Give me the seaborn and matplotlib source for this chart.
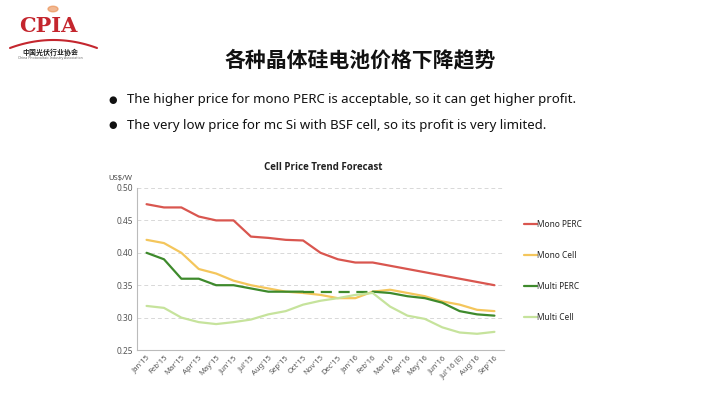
import matplotlib
matplotlib.use("Agg")
import matplotlib.pyplot as plt
from matplotlib.patches import Circle
from matplotlib.lines import Line2D
import seaborn as sns
import pandas as pd
import numpy as np

months = ["Jan'15", "Feb'15", "Mar'15", "Apr'15", "May'15", "Jun'15", "Jul'15",
          "Aug'15", "Sep'15", "Oct'15", "Nov'15", "Dec'15", "Jan'16", "Feb'16",
          "Mar'16", "Apr'16", "May'16", "Jun'16", "Jul'16 (E)", "Aug'16", "Sep'16"]
mono_perc = [0.475, 0.470, 0.470, 0.456, 0.450, 0.450, 0.425, 0.423, 0.420, 0.419,
             0.400, 0.390, 0.385, 0.385, 0.380, 0.375, 0.370, 0.365, 0.360, 0.355, 0.350]
mono_cell = [0.420, 0.415, 0.400, 0.375, 0.368, 0.357, 0.350, 0.345, 0.340, 0.338,
             0.335, 0.330, 0.330, 0.340, 0.343, 0.338, 0.333, 0.325, 0.320, 0.312, 0.310]
multi_perc = [0.400, 0.390, 0.360, 0.360, 0.350, 0.350, 0.345, 0.340, 0.340, 0.340,
              0.340, 0.340, 0.340, 0.340, 0.338, 0.333, 0.330, 0.323, 0.310, 0.305, 0.303]
multi_cell = [0.318, 0.315, 0.300, 0.293, 0.290, 0.293, 0.297, 0.305, 0.310, 0.320,
              0.326, 0.330, 0.335, 0.338, 0.317, 0.303, 0.298, 0.285, 0.277, 0.275, 0.278]
series_names = ["Mono PERC", "Mono Cell", "Multi PERC", "Multi Cell"]
colors = {"Mono PERC": "#d9564f", "Mono Cell": "#f4c65c",
          "Multi PERC": "#3e8a2c", "Multi Cell": "#c6e39c"}

title_cn = "各种晶体硅电池价格下降趋势"
bullets = ["The higher price for mono PERC is acceptable, so it can get higher profit.",
           "The very low price for mc Si with BSF cell, so its profit is very limited."]
chart_title = "Cell Price Trend Forecast"
y_unit = "US$/W"
forecast_start, forecast_end = 9, 13  # dashed Multi PERC between Oct'15 and Feb'16

sns.set_theme(style="white")
plt.rcParams['font.family'] = ['Noto Sans', 'Noto Sans CJK SC', 'DejaVu Sans']

idx = np.arange(len(months))
frames = []
for name, vals in zip(series_names, [mono_perc, mono_cell, multi_perc, multi_cell]):
    frames.append(pd.DataFrame({"idx": idx, "month": months, "price": vals, "series": name}))
df = pd.concat(frames, ignore_index=True)

fig = plt.figure(figsize=(7.2, 4.05), dpi=100)
fig.patch.set_facecolor("white")
ax = fig.add_axes([137/720, 1-350/405, (504-137)/720, (350-188)/405])

for name in series_names:
    sub = df[df.series == name]
    if name == "Multi PERC":
        a = sub[sub.idx <= forecast_start]
        b = sub[(sub.idx >= forecast_start) & (sub.idx <= forecast_end)]
        c = sub[sub.idx >= forecast_end]
        for part in (a, c):
            sns.lineplot(data=part, x="idx", y="price", color=colors[name], lw=1.6, ax=ax)
        sns.lineplot(data=b, x="idx", y="price", color=colors[name], lw=1.6, ax=ax,
                     linestyle=(0, (5, 3)))
    else:
        sns.lineplot(data=sub, x="idx", y="price", color=colors[name], lw=1.6, ax=ax)

ax.set_xlim(-0.55, len(months) - 0.45)
ax.set_ylim(0.25, 0.50)
ax.set_yticks([0.25, 0.30, 0.35, 0.40, 0.45, 0.50])
ax.set_yticklabels([f"{v:.2f}" for v in [0.25, 0.30, 0.35, 0.40, 0.45, 0.50]])
ax.set_xticks(idx)
ax.set_xticklabels(months, rotation=45, ha="right", rotation_mode="anchor")
ax.tick_params(axis="x", labelsize=5.5, colors="#555555", length=0, pad=3)
ax.tick_params(axis="y", labelsize=6, colors="#555555", length=0, pad=3)
ax.set_xlabel("")
ax.set_ylabel("")
ax.grid(axis="y", color="#d8d8d8", linestyle=(0, (4, 3)), lw=0.7)
for s in ["top", "right"]:
    ax.spines[s].set_visible(False)
for s in ["left", "bottom"]:
    ax.spines[s].set_color("#bbbbbb")
    ax.spines[s].set_linewidth(0.8)

fig.text(323/720, 1-168/405, chart_title, ha="center", va="center",
         fontsize=7, fontweight="bold", color="#222222", family=['Open Sans', 'DejaVu Sans'])
fig.text(108/720, 1-178/405, y_unit, ha="left", va="center", fontsize=5.5, color="#444444")

handles = [Line2D([], [], color=colors[n], lw=1.6) for n in series_names]
fig.legend(handles, series_names, loc="upper left",
           bbox_to_anchor=(520/720, 1-216/405), frameon=False, fontsize=6,
           handlelength=1.5, handletextpad=0.0, labelspacing=2.62, borderpad=0)

# Title and bullets
fig.text(360/720, 1-60/405, title_cn, ha="center", va="center", fontsize=15,
         fontweight="heavy", family=['Noto Sans CJK SC', 'DejaVu Sans'], color="#111111")
for i, t in enumerate(bullets):
    y = 1-(100 + 25*i)/405
    fig.text(113/720, y, "●", ha="center", va="center", fontsize=7,
             family=['DejaVu Sans'], color="#111111")
    fig.text(127/720, y, t, ha="left", va="center", fontsize=9.5, color="#111111")

# Logo
fig.text(48/720, 1-26/405, "CPIA", ha="center", va="center", fontsize=15,
         fontweight="bold", color="#c4262e", family=['DejaVu Serif'])
sun = Circle((53/720, 1-9/405), 5/720, transform=fig.transFigure, color="#e98a4a",
             alpha=0.6, zorder=0)
fig.patches.append(sun)
xs = np.linspace(10, 97, 60)
ys = 40 + 8*((xs-53.5)/43.5)**2
fig.add_artist(Line2D(xs/720, 1-ys/405, color="#c4262e", lw=1.5, transform=fig.transFigure))
fig.text(50/720, 1-52/405, "中国光伏行业协会", ha="center", va="center", fontsize=5,
         family=['Noto Sans CJK SC', 'DejaVu Sans'], color="#222222", fontweight="bold")
fig.text(50/720, 1-58/405, "China Photovoltaic Industry Association", ha="center",
         va="center", fontsize=2.5, color="#666666")

fig.savefig("out.png", dpi=100, facecolor="white")
